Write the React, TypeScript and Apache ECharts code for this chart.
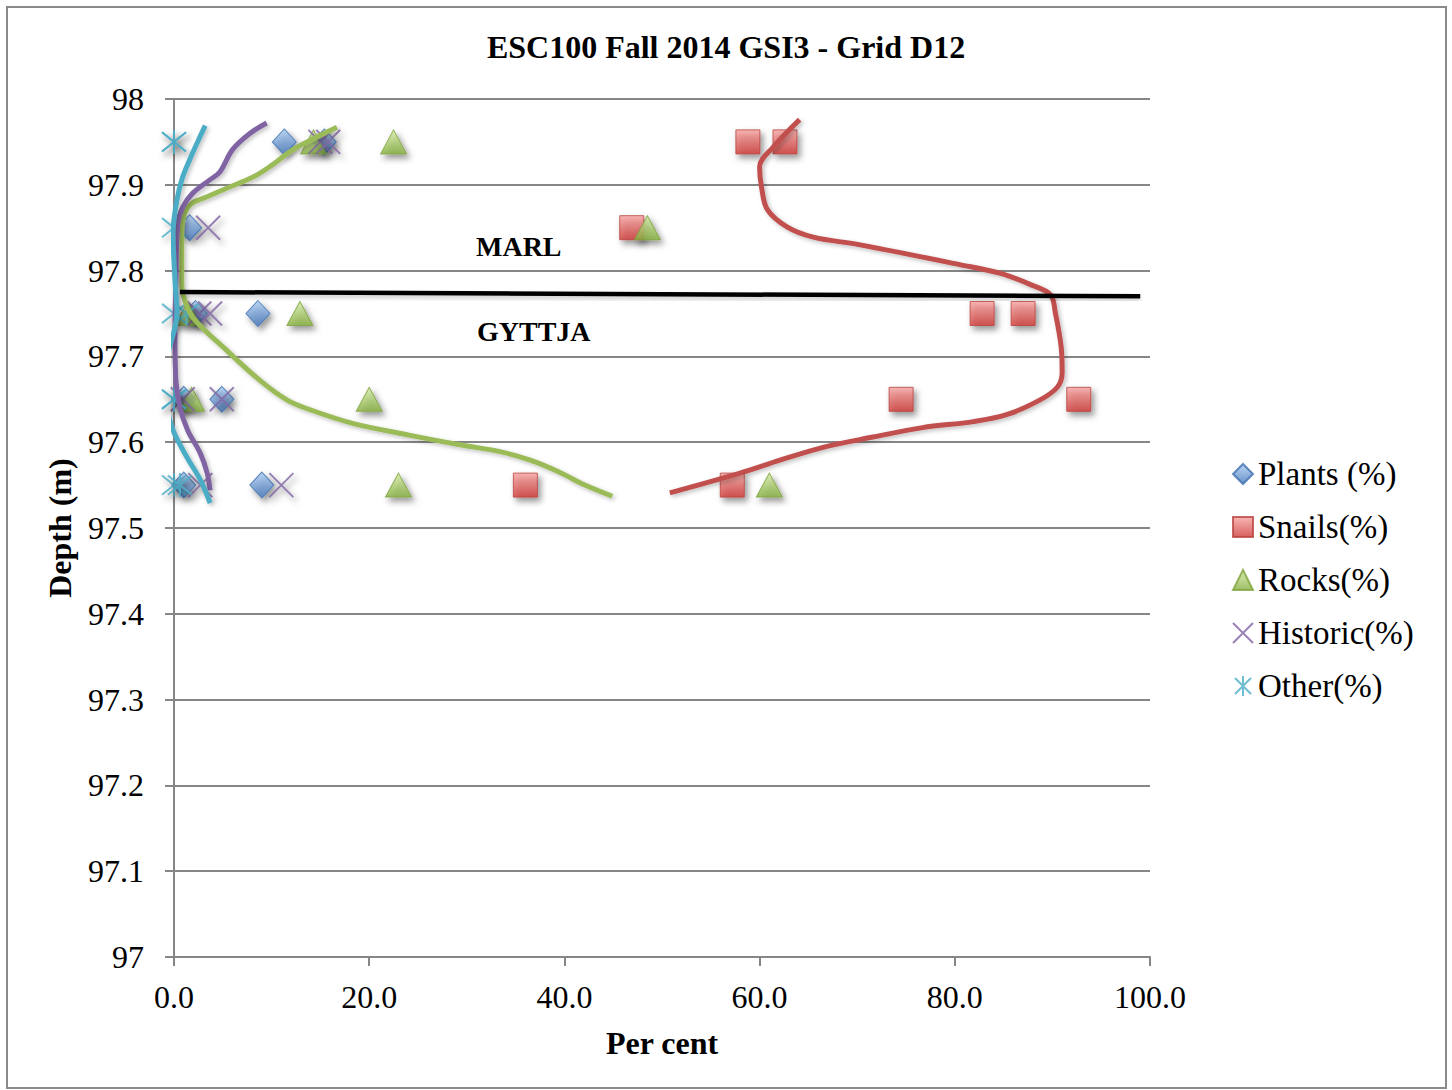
import React, { useEffect, useRef } from "react";
import * as echarts from "echarts";

// ---- Data ----
const sampleDepths = [97.95, 97.95, 97.85, 97.75, 97.75, 97.65, 97.65, 97.55, 97.55];
const plantsPct = [11.3, 15.4, 1.6, 2.2, 8.6, 1.0, 4.9, 1.0, 9.0];
const snailsPct = [58.8, 62.6, 46.9, 82.8, 87.0, 74.5, 92.7, 36.0, 57.2];
const rocksPct = [14.3, 22.5, 48.5, 1.4, 12.9, 1.8, 20.0, 23.0, 61.0];
const historicPct = [15.0, 15.8, 3.5, 2.6, 3.7, 0.9, 4.9, 2.7, 11.0];
const otherPct = [0.0, 0.0, 0.0, 0.0, 1.3, 0.0, 0.0, 0.0, 0.6];

// hand-drawn trend curves: [percent, depth]
const snailsTrend = [
  [64.1, 97.976], [61.4, 97.944], [60.0, 97.921], [60.2, 97.897], [60.8, 97.871],
  [62.8, 97.851], [65.5, 97.839], [70.3, 97.830], [80.5, 97.807], [84.6, 97.797],
  [87.7, 97.784], [89.8, 97.772], [90.3, 97.751], [90.9, 97.711], [91.0, 97.681],
  [90.5, 97.664], [88.7, 97.649], [85.3, 97.632], [81.9, 97.624], [76.7, 97.617],
  [71.6, 97.606], [66.5, 97.594], [62.1, 97.579], [58.0, 97.564], [50.8, 97.541],
];
const rocksTrend = [
  [16.7, 97.967], [14.7, 97.956], [12.2, 97.941], [9.8, 97.921], [8.1, 97.909],
  [5.4, 97.896], [3.4, 97.886], [1.9, 97.879], [1.1, 97.867], [0.8, 97.844],
  [0.8, 97.789], [0.9, 97.774], [1.9, 97.746], [5.4, 97.707], [8.8, 97.672],
  [11.6, 97.649], [13.9, 97.638], [18.3, 97.622], [24.2, 97.608], [29.3, 97.597],
  [33.4, 97.589], [36.5, 97.579], [39.5, 97.565], [42.1, 97.55], [44.9, 97.537],
];
const historicTrend = [
  [9.5, 97.972], [7.8, 97.96], [6.0, 97.941], [4.7, 97.915], [3.7, 97.906],
  [1.9, 97.89], [0.9, 97.874], [0.4, 97.855], [0.2, 97.789], [0.1, 97.731],
  [0.2, 97.672], [0.6, 97.641], [1.4, 97.614], [2.7, 97.587], [3.4, 97.564], [3.7, 97.544],
];
const otherTrend = [
  [3.2, 97.969], [2.5, 97.952], [1.6, 97.929], [0.8, 97.906], [0.3, 97.882],
  [-0.1, 97.844], [0.1, 97.789], [0.3, 97.751], [-0.6, 97.704], [-0.9, 97.681],
  [-0.7, 97.641], [-0.1, 97.614], [1.3, 97.583], [2.7, 97.556], [3.7, 97.529],
];
const boundaryLine = [[0.6, 97.775], [99.0, 97.77]];

const xTicks = { min: 0, max: 100, interval: 20 };
const yTicks = { min: 97, max: 98, interval: 0.1 };

const seriesNames = ["Plants (%)", "Snails(%)", "Rocks(%)", "Historic(%)", "Other(%)"];

const FONT = "'Liberation Serif', 'Times New Roman', serif";

const grad = (top: string, bottom: string) => ({
  type: "linear", x: 0, y: 0, x2: 0, y2: 1,
  colorStops: [{ offset: 0, color: top }, { offset: 1, color: bottom }],
});

const shadow = {
  shadowBlur: 6,
  shadowOffsetX: 3,
  shadowOffsetY: 4,
  shadowColor: "rgba(0,0,0,0.5)",
};

const pairs = (vals: number[]) => vals.map((v, i) => [v, sampleDepths[i]]);

export default function App() {
  const ref = useRef<HTMLDivElement>(null);
  useEffect(() => {
    if (!ref.current) return;
    const chart = echarts.init(ref.current, undefined, { renderer: "svg" });
    const markerSeries = (
      name: string, vals: number[], symbol: string, size: number | number[], itemStyle: any
    ) => ({
      name, type: "scatter", data: pairs(vals), symbol, symbolSize: size, z: 2,
      itemStyle: { ...itemStyle, ...shadow },
    });
    const curve = (data: number[][], color: string) => ({
      type: "line", data, smooth: 0.35, symbol: "none", showSymbol: false, clip: false, z: 3,
      lineStyle: { color, width: 5, shadowBlur: 4, shadowOffsetX: 2, shadowOffsetY: 2, shadowColor: "rgba(0,0,0,0.25)" },
      silent: true,
    });
    const option: any = {
      animation: false,
      backgroundColor: "#ffffff",
      title: {
        text: "ESC100 Fall 2014 GSI3 - Grid D12",
        left: "center",
        top: 26,
        textStyle: { fontFamily: FONT, fontSize: 32, fontWeight: "bold", color: "#000" },
      },
      grid: { left: 174, right: 302, top: 99, bottom: 133 },
      legend: {
        data: seriesNames,
        orient: "vertical",
        left: 1227,
        top: 452,
        itemWidth: 20,
        itemHeight: 20,
        itemGap: 19,
        textStyle: { fontFamily: FONT, fontSize: 33, color: "#000", lineHeight: 34 },
        itemStyle: { shadowBlur: 0, shadowOffsetX: 0, shadowOffsetY: 0, shadowColor: "rgba(0,0,0,0)" },
      },
      xAxis: {
        type: "value",
        ...xTicks,
        name: "Per cent",
        nameLocation: "middle",
        nameGap: 70,
        nameTextStyle: { fontFamily: FONT, fontSize: 32, fontWeight: "bold", color: "#000" },
        axisLine: { show: true, lineStyle: { color: "#868686", width: 2 } },
        axisTick: { show: true, length: 9, lineStyle: { color: "#868686", width: 2 } },
        splitLine: { show: false },
        axisLabel: {
          fontFamily: FONT, fontSize: 32, color: "#000", margin: 24,
          formatter: (v: number) => v.toFixed(1),
        },
      },
      yAxis: {
        type: "value",
        ...yTicks,
        name: "Depth (m)",
        nameLocation: "middle",
        nameGap: 98,
        nameTextStyle: { fontFamily: FONT, fontSize: 32, fontWeight: "bold", color: "#000" },
        axisLine: { show: true, lineStyle: { color: "#868686", width: 2 } },
        axisTick: { show: true, length: 9, lineStyle: { color: "#868686", width: 2 } },
        splitLine: { show: true, lineStyle: { color: "#868686", width: 2 } },
        axisLabel: {
          fontFamily: FONT, fontSize: 32, color: "#000", margin: 30,
          formatter: (v: number) => String(Math.round(v * 10) / 10),
        },
      },
      graphic: [
        {
          type: "rect", shape: { x: 7, y: 7, width: 1439, height: 1081 },
          style: { fill: "none", stroke: "#8a8a8a", lineWidth: 2 }, silent: true,
        },
        {
          type: "text", x: 476, y: 246,
          style: { text: "MARL", font: `bold 28px ${FONT}`, fill: "#000", textVerticalAlign: "middle", verticalAlign: "middle" },
        },
        {
          type: "text", x: 477, y: 331,
          style: { text: "GYTTJA", font: `bold 28px ${FONT}`, fill: "#000", textVerticalAlign: "middle", verticalAlign: "middle" },
        },
      ],
      series: [
        markerSeries(seriesNames[0], plantsPct, "diamond", [24, 26], {
          color: grad("#A9CBF0", "#4677BA"), borderColor: "#3D6FB0", borderWidth: 1,
        }),
        markerSeries(seriesNames[1], snailsPct, "rect", 24, {
          color: grad("#F5A3A1", "#CF3A37"), borderColor: "#B8423F", borderWidth: 1,
        }),
        markerSeries(seriesNames[2], rocksPct, "triangle", [26, 24], {
          color: grad("#D2E9A3", "#86AF40"), borderColor: "#7FA23C", borderWidth: 1,
        }),
        markerSeries(seriesNames[3], historicPct, "path://M0,0L10,10M10,0L0,10", 24, {
          color: "#8064A2", borderColor: "#8064A2", borderWidth: 2,
        }),
        markerSeries(seriesNames[4], otherPct, "path://M1,1L9,9M9,1L1,9M5,0L5,10", 24, {
          color: "#4BACC6", borderColor: "#4BACC6", borderWidth: 2,
        }),
        curve(snailsTrend, "#C0504D"),
        curve(rocksTrend, "#9BBB59"),
        curve(historicTrend, "#8064A2"),
        curve(otherTrend, "#4BACC6"),
        {
          type: "line", data: boundaryLine, symbol: "none", z: 4, silent: true,
          lineStyle: { color: "#000", width: 4.5, shadowBlur: 4, shadowOffsetY: 3, shadowColor: "rgba(0,0,0,0.2)" },
        },
      ],
    };
    chart.setOption(option);
    return () => chart.dispose();
  }, []);
  return (
    <div
      ref={ref}
      style={{ position: "fixed", left: 0, top: 0, width: 1452, height: 1090, background: "#fff" }}
    />
  );
}
